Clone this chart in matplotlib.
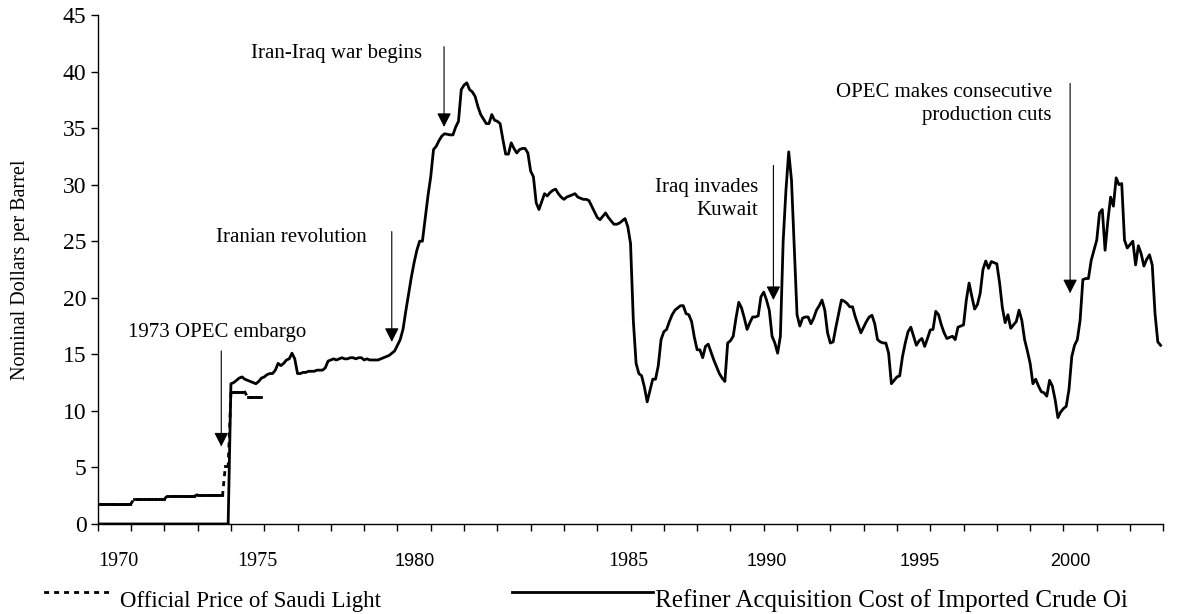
import matplotlib
matplotlib.use('Agg')
import matplotlib.pyplot as plt
import numpy as np
from matplotlib.collections import LineCollection
from matplotlib.lines import Line2D

# monthly values, Jan 1970 - Dec 1974
saudi_light = [1.80] * 13 + [2.18] * 12 + [2.48] * 11 + [2.59] * 10 + [5.12] * 2 + [11.65] * 6 + [11.25] * 6

# refiner acquisition cost of imported crude, monthly Jan 1970 - Dec 2001
rac_before_1974 = [0.0] * 48
rac_1974_2001 = [
    12.4, 12.5, 12.7, 12.9, 13.0, 12.8, 12.7, 12.6, 12.5, 12.4, 12.6, 12.9,   # 1974
    13.0, 13.2, 13.3, 13.3, 13.6, 14.2, 14.0, 14.2, 14.5, 14.6, 15.1, 14.6,   # 1975
    13.3, 13.3, 13.4, 13.4, 13.5, 13.5, 13.5, 13.6, 13.6, 13.6, 13.8, 14.4,   # 1976
    14.5, 14.6, 14.5, 14.6, 14.7, 14.6, 14.6, 14.7, 14.7, 14.6, 14.7, 14.7,   # 1977
    14.5, 14.6, 14.5, 14.5, 14.5, 14.5, 14.6, 14.7, 14.8, 14.9, 15.1, 15.3,   # 1978
    15.8, 16.3, 17.2, 18.8, 20.3, 21.8, 23.1, 24.2, 25.0, 25.0, 27.0, 29.0,   # 1979
    30.7, 33.1, 33.4, 33.9, 34.3, 34.5, 34.45, 34.4, 34.4, 35.1, 35.6, 38.4,  # 1980
    38.8, 39.0, 38.4, 38.2, 37.8, 36.9, 36.2, 35.8, 35.4, 35.4, 36.2, 35.7,   # 1981
    35.6, 35.4, 34.0, 32.7, 32.7, 33.7, 33.2, 32.8, 33.1, 33.2, 33.2, 32.8,   # 1982
    31.2, 30.7, 28.4, 27.8, 28.5, 29.2, 29.0, 29.3, 29.5, 29.6, 29.2, 28.9,   # 1983
    28.7, 28.9, 29.0, 29.1, 29.2, 28.9, 28.8, 28.7, 28.7, 28.6, 28.1, 27.6,   # 1984
    27.1, 26.9, 27.2, 27.5, 27.1, 26.8, 26.5, 26.5, 26.6, 26.8, 27.0, 26.3,   # 1985
    24.8, 18.0, 14.2, 13.3, 13.1, 12.1, 10.8, 11.8, 12.8, 12.8, 14.0, 16.3,   # 1986
    17.0, 17.2, 17.9, 18.5, 18.9, 19.1, 19.3, 19.3, 18.6, 18.5, 17.9, 16.5,   # 1987
    15.4, 15.4, 14.7, 15.7, 15.9, 15.2, 14.5, 13.9, 13.3, 12.9, 12.6, 16.0,   # 1988
    16.2, 16.6, 18.2, 19.6, 19.1, 18.2, 17.2, 17.8, 18.3, 18.3, 18.4, 20.1,   # 1989
    20.5, 19.8, 18.9, 16.6, 16.0, 15.1, 16.6, 25.0, 29.5, 32.9, 30.4, 24.5,   # 1990
    18.5, 17.5, 18.2, 18.3, 18.3, 17.7, 18.2, 18.9, 19.3, 19.8, 18.9, 16.9,   # 1991
    16.0, 16.1, 17.4, 18.6, 19.8, 19.7, 19.5, 19.2, 19.2, 18.3, 17.6, 16.9,   # 1992
    17.4, 17.9, 18.3, 18.45, 17.7, 16.3, 16.1, 16.0, 16.0, 15.1, 12.4, 12.7,  # 1993
    13.0, 13.1, 14.8, 16.0, 17.0, 17.4, 16.6, 15.8, 16.2, 16.4, 15.7, 16.4,   # 1994
    17.15, 17.2, 18.8, 18.5, 17.6, 16.9, 16.4, 16.5, 16.6, 16.3, 17.4, 17.5,  # 1995
    17.6, 19.8, 21.3, 20.1, 19.0, 19.4, 20.4, 22.5, 23.25, 22.6, 23.2, 23.1,  # 1996
    23.0, 21.3, 19.1, 17.8, 18.5, 17.3, 17.6, 17.9, 18.9, 18.0, 16.3, 15.3,   # 1997
    14.2, 12.4, 12.8, 12.2, 11.7, 11.6, 11.3, 12.7, 12.2, 11.0, 9.4, 9.9,     # 1998
    10.2, 10.4, 11.9, 14.8, 15.8, 16.3, 18.0, 21.6, 21.7, 21.7, 23.3, 24.2,   # 1999
    25.1, 27.5, 27.8, 24.2, 26.8, 28.9, 28.1, 30.6, 30.0, 30.1, 25.1, 24.4,   # 2000
    24.7, 25.0, 22.9, 24.6, 23.9, 22.8, 23.4, 23.8, 22.9, 18.6, 16.1, 15.8,   # 2001
]
rac = rac_before_1974 + rac_1974_2001

year_labels = ['1970', '1975', '1980', '1985', '1990', '1995', '2000']
serif_years = ['1970', '1975', '1985']

event_texts = ['1973 OPEC embargo', 'Iranian revolution', 'Iran-Iraq war begins',
               'Iraq invades\nKuwait', 'OPEC makes consecutive\nproduction cuts']
event_dates = [1973.71, 1978.83, 1980.40, 1990.29, 1999.20]
arrow_tops = [15.3, 25.85, 42.2, 31.7, 38.95]
arrow_tips = [6.85, 16.1, 35.1, 19.8, 20.4]

serif = ['Liberation Serif', 'DejaVu Serif']
sans = ['Liberation Sans', 'DejaVu Sans']
dash = (0, (0.8, 2.8))

fig = plt.figure(figsize=(11.86, 6.14), dpi=100)
ax = fig.add_axes([0.0824, 0.1466, 0.8985, 0.829])

x_saudi = 1970 + np.arange(len(saudi_light)) / 12
x_rac = 1970 + np.arange(len(rac)) / 12

# dashed line drawn segment by segment so the flat steps look solid
pts = np.column_stack([x_saudi, saudi_light])
segs = np.stack([pts[:-1], pts[1:]], axis=1)
lc = LineCollection(segs, colors='black', linewidths=2.0, linestyles=[dash], capstyle='projecting')
ax.add_collection(lc)

ax.plot(x_rac, rac, color='black', lw=2.0)

ax.set_xlim(1970, 2002)
ax.set_ylim(0, 45)
ax.set_yticks(np.arange(0, 46, 5))
ax.set_xticks(np.arange(1970, 2003))
ax.set_xticklabels([])
for s in ['top', 'right']:
    ax.spines[s].set_visible(False)
for s in ['left', 'bottom']:
    ax.spines[s].set_linewidth(1.0)
ax.tick_params(axis='both', direction='out', length=5, width=1, color='black')
ax.tick_params(axis='y', labelsize=17, pad=3)
for t in ax.get_yticklabels():
    t.set_family(serif)

# year labels sit between the ticks, placed by hand in the original
label_x = [1970.61, 1974.78, 1979.53, 1985.93, 1990.10, 1994.69, 1999.20]
for lab, xx in zip(year_labels, label_x):
    fam = serif if lab in serif_years else sans
    size = 14.5 if lab in serif_years else 13
    ax.text(xx, -0.0735, lab, transform=ax.get_xaxis_transform(), ha='center', va='center',
            family=fam, fontsize=size)

fig.text(0.017, 0.56, 'Nominal Dollars per Barrel', rotation=90, ha='center', va='center',
         family=serif, fontsize=14.5)

# event annotations
text_pos = [(1970.91, 16.9, 'left'), (1978.08, 25.3, 'right'), (1979.73, 41.6, 'right'),
            (1989.84, 28.7, 'right'), (1998.65, 37.1, 'right')]
for txt, (tx, ty, ha) in zip(event_texts, text_pos):
    ax.text(tx, ty, txt, ha=ha, va='center', family=serif, fontsize=15,
            multialignment='right', linespacing=1.3)
for d, top, tip in zip(event_dates, arrow_tops, arrow_tips):
    ax.annotate('', xy=(d, tip), xytext=(d, top),
                arrowprops=dict(arrowstyle='-|>,head_length=0.85,head_width=0.43',
                                mutation_scale=10, color='black', lw=0.8,
                                shrinkA=0, shrinkB=0))

# legend below the axis
fig.add_artist(Line2D([45 / 1186, 115 / 1186], [1 - 591.7 / 614] * 2, color='black', lw=2.0,
                      linestyle=dash, dash_capstyle='projecting', transform=fig.transFigure))
fig.text(120 / 1186, 1 - 606.7 / 614, 'Official Price of Saudi Light', ha='left', va='baseline',
         family=serif, fontsize=16.5)
fig.add_artist(Line2D([512 / 1186, 653 / 1186], [1 - 591.7 / 614] * 2, color='black', lw=2.0,
                      transform=fig.transFigure))
fig.text(655 / 1186, 1 - 606.7 / 614, 'Refiner Acquisition Cost of Imported Crude Oi', ha='left',
         va='baseline', family=serif, fontsize=18)

fig.savefig('out.png', dpi=100)
